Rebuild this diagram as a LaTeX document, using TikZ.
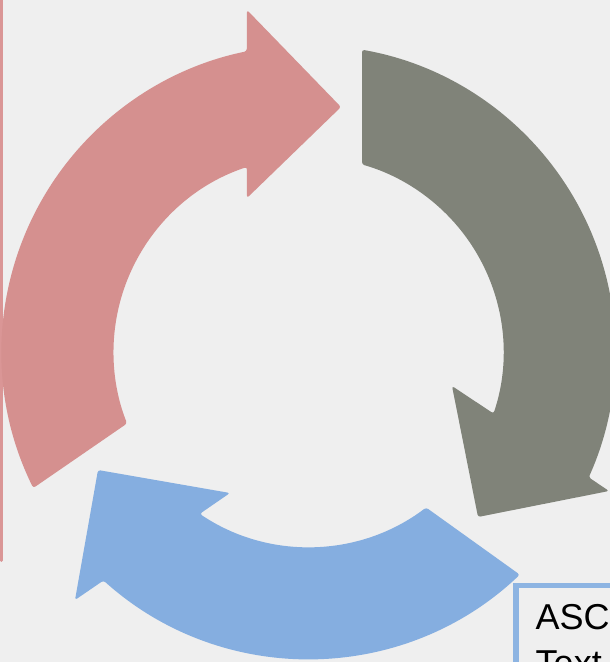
\documentclass[tikz,border=0pt]{standalone}
\usepackage{fontspec}
\setmainfont{Liberation Sans}
\usetikzlibrary{calc}
\definecolor{bgc}{RGB}{239,239,239}
\definecolor{pinkc}{RGB}{213,144,143}
\definecolor{grayc}{RGB}{128,131,121}
\definecolor{bluec}{RGB}{133,174,224}
\definecolor{boxc}{RGB}{141,180,226}
\definecolor{linec}{RGB}{218,150,150}
\begin{document}
\begin{tikzpicture}[x=1pt,y=1pt,
  arrowshape/.style={rounded corners=2.5pt}]
\fill[bgc] (0,0) rectangle (610,662);
\useasboundingbox (0,0) rectangle (610,662);
\clip (0,0) rectangle (610,662);
\coordinate (C) at (308.5,310);
% left vertical line
\draw[linec, line width=3pt, line cap=round] (1.5,680) -- (1.5,101.5);
% pink arrow
\fill[pinkc, arrowshape] ($(C)+(206.3:307pt)$) arc[start angle=206.3,end angle=101.6,radius=307pt]
  -- (247,652) -- (341,555) -- (247,464) -- ($(C)+(108.4:195pt)$)
  arc[start angle=108.4,end angle=201.5,radius=195pt] -- cycle;
% gray arrow
\fill[grayc, arrowshape] ($(C)+(79.96:307pt)$) arc[start angle=79.96,end angle=-24.1,radius=307pt]
  -- (609,171) -- (478,145) -- (452,276) -- ($(C)+(-18.4:195pt)$)
  arc[start angle=-18.4,end angle=74.07,radius=195pt] -- cycle;
% blue arrow
\fill[bluec, arrowshape] ($(C)+(-46.5:307pt)$) arc[start angle=-46.5,end angle=-131.9,radius=307pt]
  -- (75,62) -- (98,192) -- (230,169) -- ($(C)+(-123.9:195pt)$)
  arc[start angle=-123.9,end angle=-52.9,radius=195pt] -- cycle;
% text box
\draw[boxc, line width=5.5pt] (516.2,76.7) rectangle (760,-120);
\node[anchor=north west, inner sep=0pt, align=left,
  font=\fontsize{36}{45.7}\selectfont] (txt) at (535.5,57.8) {ASC\\Text};
\end{tikzpicture}
\end{document}
